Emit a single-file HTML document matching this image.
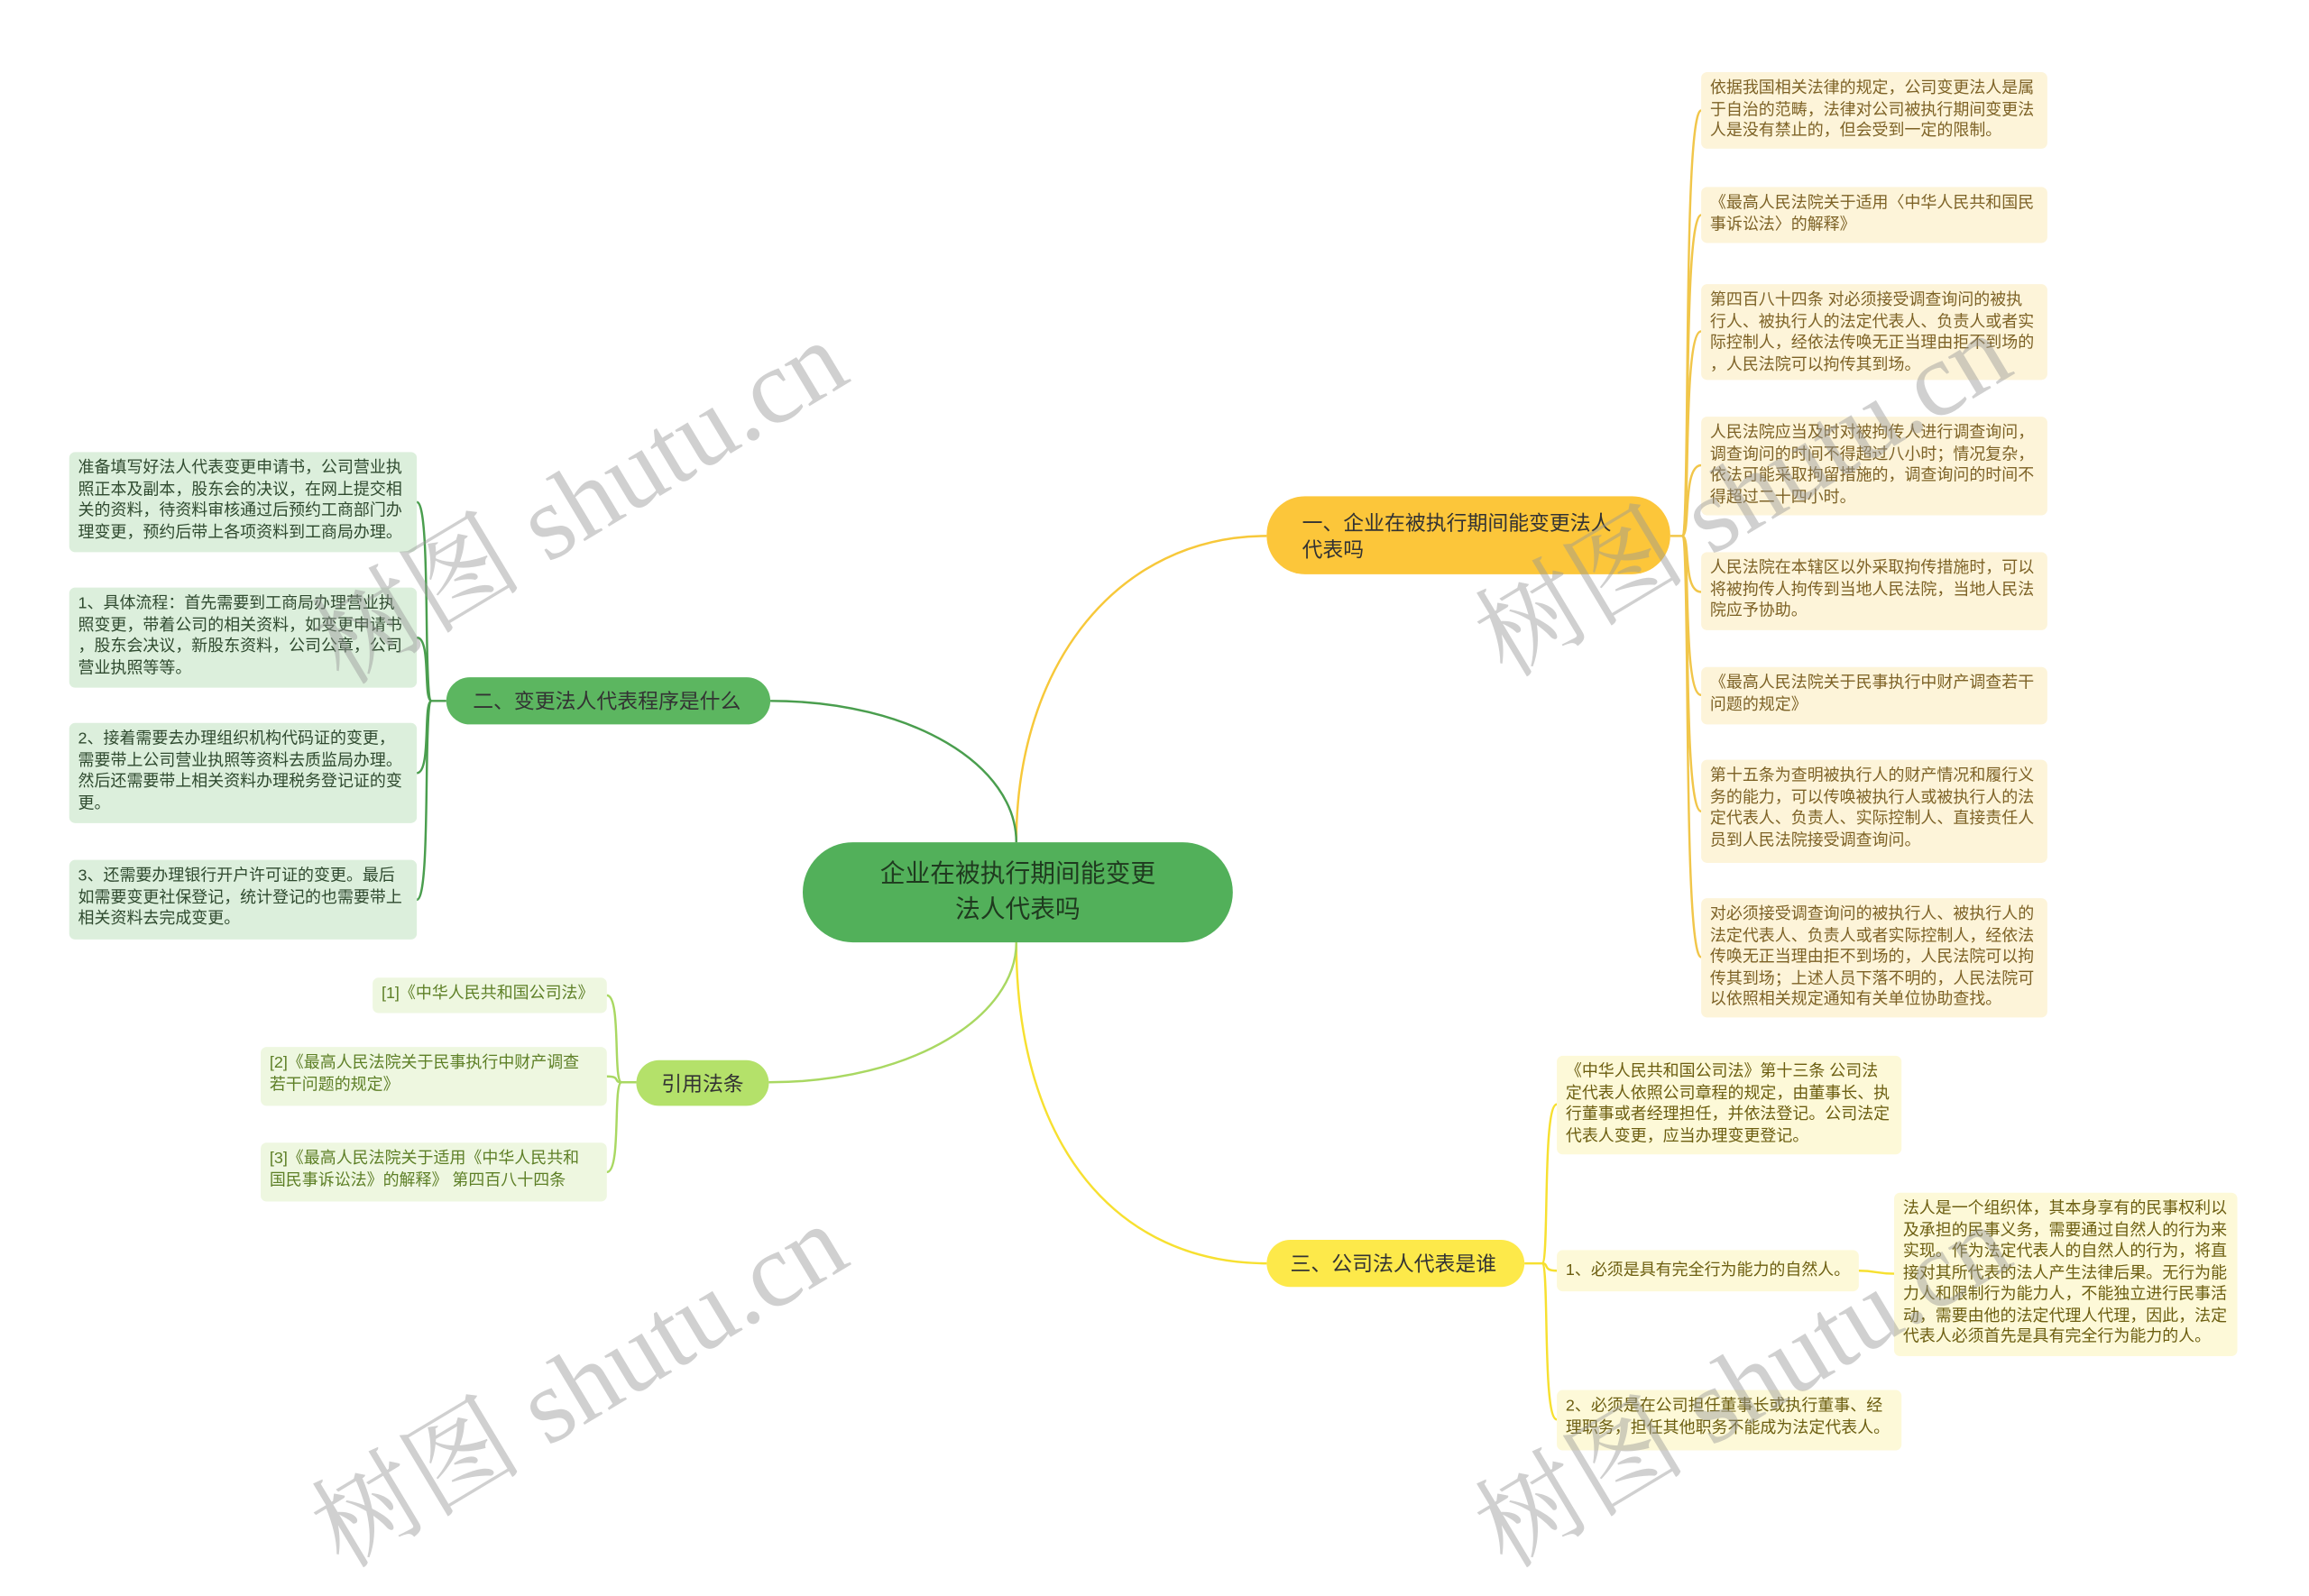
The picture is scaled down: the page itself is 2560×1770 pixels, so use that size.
<!DOCTYPE html>
<html><head><meta charset="utf-8">
<style>
html,body{margin:0;padding:0;background:#fff;overflow:hidden;}
#wrap{position:absolute;left:0;top:0;width:1568px;height:1033px;transform:scale(1.633);transform-origin:0 0;font-family:"Liberation Sans","Noto Sans CJK SC",sans-serif;}
.n{position:absolute;box-sizing:border-box;border-radius:4px;font-size:11px;line-height:14.5px;white-space:nowrap;padding:4px 6px;}
.r{background:#fdf4d9;color:#7d6226;}
.g{background:#dcefdc;color:#2f4a2f;}
.c{background:#eef7e0;color:#5d7f26;}
.y{background:#fdf9d8;color:#6c5e10;}
.b{position:absolute;box-sizing:border-box;display:flex;align-items:center;font-size:14px;line-height:18px;color:#333;}
.wm{position:absolute;font-family:"Liberation Serif","Noto Serif CJK SC",serif;font-size:72px;color:rgba(150,150,150,0.45);transform:rotate(-31deg);white-space:nowrap;transform-origin:0 0;}
svg{position:absolute;left:0;top:0;}
</style></head><body><div id="wrap">
<svg width="1568" height="1033" fill="none" stroke-width="1.5">
<path d="M690 572 C690 450 760 364 860 364" stroke="#f7c83a"/>
<path d="M690 640 C690 780 760 858 860 858" stroke="#f7e030"/>
<path d="M690 572 C690 520 620 476 523 476" stroke="#4a9e4e"/>
<path d="M690 640 C690 690 620 735 522 735" stroke="#a9d862"/>
<g stroke="#f1c64a">
<path d="M1134 364 h8 M1142 364 C1148 364 1142 75 1155 75"/>
<path d="M1142 364 C1148 364 1142 146 1155 146"/>
<path d="M1142 364 C1148 364 1142 225 1155 225"/>
<path d="M1142 364 C1148 364 1142 316 1155 316"/>
<path d="M1142 364 C1148 364 1142 402 1155 402"/>
<path d="M1142 364 C1148 364 1142 472 1155 472"/>
<path d="M1142 364 C1148 364 1142 551 1155 551"/>
<path d="M1142 364 C1148 364 1142 650 1155 650"/>
</g>
<g stroke="#4a9e4e">
<path d="M303 476 h-10 M293 476 C287 476 293 341 283 341"/>
<path d="M293 476 C287 476 293 433 283 433"/>
<path d="M293 476 C287 476 293 525 283 525"/>
<path d="M293 476 C287 476 293 611 283 611"/>
</g>
<g stroke="#a9d862">
<path d="M432 735 h-10 M422 735 C416 735 422 676 412 676"/>
<path d="M422 735 C416 735 422 731 412 731"/>
<path d="M422 735 C416 735 422 796 412 796"/>
</g>
<g stroke="#f7e030">
<path d="M1035 858 h12 M1047 858 C1052 858 1047 750 1057 750"/>
<path d="M1047 858 C1052 858 1047 863 1057 863"/>
<path d="M1047 858 C1052 858 1047 964 1057 964"/>
<path d="M1262 863 C1274 863 1274 865 1286 865"/>
</g>
</svg>

<div class="b" style="left:545px;top:572px;width:292px;height:68px;background:#52b05a;border-radius:34px;justify-content:center;text-align:center;font-size:17px;line-height:24px;color:#1f3a1f;">企业在被执行期间能变更<br>法人代表吗</div>
<div class="b" style="left:860px;top:337px;width:274px;height:53px;background:#fcc63a;border-radius:26px;padding-left:24px;">一、企业在被执行期间能变更法人<br>代表吗</div>
<div class="b" style="left:303px;top:460px;width:220px;height:32px;background:#5cb660;border-radius:16px;padding-left:18px;">二、变更法人代表程序是什么</div>
<div class="b" style="left:432px;top:720px;width:90px;height:31px;background:#b4e16a;border-radius:16px;justify-content:center;">引用法条</div>
<div class="b" style="left:860px;top:842px;width:175px;height:32px;background:#fde94a;border-radius:16px;padding-left:16px;">三、公司法人代表是谁</div>

<div class="n r" style="left:1155px;top:49px;width:235px;height:52px;">依据我国相关法律的规定，公司变更法人是属<br>于自治的范畴，法律对公司被执行期间变更法<br>人是没有禁止的，但会受到一定的限制。</div>
<div class="n r" style="left:1155px;top:127px;width:235px;height:38px;">《最高人民法院关于适用〈中华人民共和国民<br>事诉讼法〉的解释》</div>
<div class="n r" style="left:1155px;top:193px;width:235px;height:65px;">第四百八十四条 对必须接受调查询问的被执<br>行人、被执行人的法定代表人、负责人或者实<br>际控制人，经依法传唤无正当理由拒不到场的<br>，人民法院可以拘传其到场。</div>
<div class="n r" style="left:1155px;top:283px;width:235px;height:67px;">人民法院应当及时对被拘传人进行调查询问，<br>调查询问的时间不得超过八小时；情况复杂，<br>依法可能采取拘留措施的，调查询问的时间不<br>得超过二十四小时。</div>
<div class="n r" style="left:1155px;top:375px;width:235px;height:53px;">人民法院在本辖区以外采取拘传措施时，可以<br>将被拘传人拘传到当地人民法院，当地人民法<br>院应予协助。</div>
<div class="n r" style="left:1155px;top:453px;width:235px;height:39px;">《最高人民法院关于民事执行中财产调查若干<br>问题的规定》</div>
<div class="n r" style="left:1155px;top:516px;width:235px;height:70px;">第十五条为查明被执行人的财产情况和履行义<br>务的能力，可以传唤被执行人或被执行人的法<br>定代表人、负责人、实际控制人、直接责任人<br>员到人民法院接受调查询问。</div>
<div class="n r" style="left:1155px;top:610px;width:235px;height:81px;">对必须接受调查询问的被执行人、被执行人的<br>法定代表人、负责人或者实际控制人，经依法<br>传唤无正当理由拒不到场的，人民法院可以拘<br>传其到场；上述人员下落不明的，人民法院可<br>以依照相关规定通知有关单位协助查找。</div>

<div class="n g" style="left:47px;top:307px;width:236px;height:68px;">准备填写好法人代表变更申请书，公司营业执<br>照正本及副本，股东会的决议，在网上提交相<br>关的资料，待资料审核通过后预约工商部门办<br>理变更，预约后带上各项资料到工商局办理。</div>
<div class="n g" style="left:47px;top:399px;width:236px;height:68px;">1、具体流程：首先需要到工商局办理营业执<br>照变更，带着公司的相关资料，如变更申请书<br>，股东会决议，新股东资料，公司公章，公司<br>营业执照等等。</div>
<div class="n g" style="left:47px;top:491px;width:236px;height:68px;">2、接着需要去办理组织机构代码证的变更，<br>需要带上公司营业执照等资料去质监局办理。<br>然后还需要带上相关资料办理税务登记证的变<br>更。</div>
<div class="n g" style="left:47px;top:584px;width:236px;height:54px;">3、还需要办理银行开户许可证的变更。最后<br>如需要变更社保登记，统计登记的也需要带上<br>相关资料去完成变更。</div>

<div class="n c" style="left:253px;top:664px;width:159px;height:24px;">[1]《中华人民共和国公司法》</div>
<div class="n c" style="left:177px;top:711px;width:235px;height:40px;">[2]《最高人民法院关于民事执行中财产调查<br>若干问题的规定》</div>
<div class="n c" style="left:177px;top:776px;width:235px;height:40px;">[3]《最高人民法院关于适用《中华人民共和<br>国民事诉讼法》的解释》 第四百八十四条</div>

<div class="n y" style="left:1057px;top:717px;width:234px;height:67px;">《中华人民共和国公司法》第十三条 公司法<br>定代表人依照公司章程的规定，由董事长、执<br>行董事或者经理担任，并依法登记。公司法定<br>代表人变更，应当办理变更登记。</div>
<div class="n y" style="left:1057px;top:849px;width:205px;height:28px;padding-top:7px;">1、必须是具有完全行为能力的自然人。</div>
<div class="n y" style="left:1057px;top:944px;width:234px;height:41px;">2、必须是在公司担任董事长或执行董事、经<br>理职务，担任其他职务不能成为法定代表人。</div>
<div class="n y" style="left:1286px;top:810px;width:233px;height:111px;">法人是一个组织体，其本身享有的民事权利以<br>及承担的民事义务，需要通过自然人的行为来<br>实现。作为法定代表人的自然人的行为，将直<br>接对其所代表的法人产生法律后果。无行为能<br>力人和限制行为能力人，不能独立进行民事活<br>动，需要由他的法定代理人代理，因此，法定<br>代表人必须首先是具有完全行为能力的人。</div>

<div class="wm" style="left:190px;top:395px;">树图 shutu.cn</div>
<div class="wm" style="left:980px;top:390px;">树图 shutu.cn</div>
<div class="wm" style="left:190px;top:995px;">树图 shutu.cn</div>
<div class="wm" style="left:980px;top:995px;">树图 shutu.cn</div>
</div></body></html>
